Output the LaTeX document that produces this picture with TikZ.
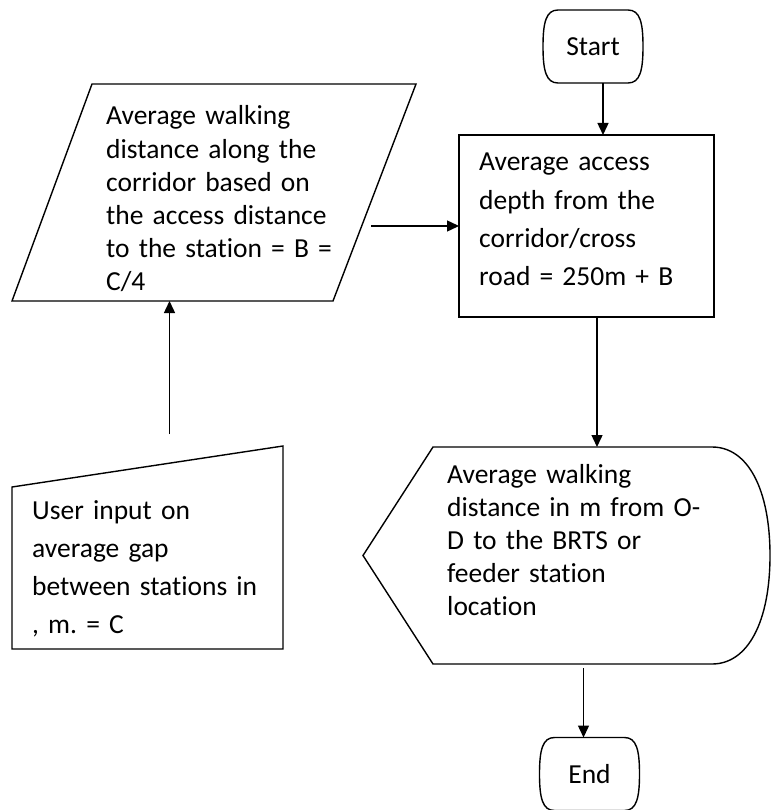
\documentclass[tikz,border=0pt]{standalone}
\usepackage{fontspec}
\setmainfont{Carlito}[RawFeature={-liga;-clig;-calt}]
\frenchspacing
\usetikzlibrary{positioning,arrows.meta,calc}

\begin{document}
\begin{tikzpicture}[x=1pt,y=-1pt,
  line/.style={line width=1.4pt},
  arr/.style={line width=1.4pt,-{Triangle[length=12pt,width=11pt]}},
  frame/.style={inner sep=0pt,outer sep=0pt},
  txt/.style={anchor=base west,inner sep=0pt,text width=330pt,align=left,font=\fontsize{27.5}{38.2}\selectfont},
  tight/.style={txt,font=\fontsize{27.5}{33.2}\selectfont},
  term/.style={frame,minimum width=100pt,minimum height=73pt,font=\fontsize{27.5}{33}\selectfont}]
\useasboundingbox (0,0) rectangle (772,810);
% ---------- terminals ----------
\node[term] (start) at (593,46.5) {Start};
\node[term] (finish) at (589.5,774) {End};
\foreach \n in {start,finish}{
  \draw[line] ($(\n.north west)+(15,0)$) -- ($(\n.north east)+(-15,0)$)
    .. controls ($(\n.north east)+(-3,0)$) and ($(\n.east)+(0,-24)$) .. (\n.east)
    .. controls ($(\n.east)+(0,24)$) and ($(\n.south east)+(-3,0)$) .. ($(\n.south east)+(-15,0)$)
    -- ($(\n.south west)+(15,0)$)
    .. controls ($(\n.south west)+(3,0)$) and ($(\n.west)+(0,24)$) .. (\n.west)
    .. controls ($(\n.west)+(0,-24)$) and ($(\n.north west)+(3,0)$) .. ($(\n.north west)+(15,0)$) -- cycle;}
% ---------- process ----------
\node[frame,draw,line width=1.4pt,minimum width=255pt,minimum height=182pt] (depth) at (586.5,226) {};
\node[txt] (depthtxt) at (479,171) {Average access\\depth from the\\corridor/cross\\road = 250m + B};
% ---------- data (parallelogram) ----------
\node[frame,minimum width=404pt,minimum height=217pt] (walk) at (214,192.5) {};
\draw[line] ($(walk.north west)+(80,0)$) -- (walk.north east) -- ($(walk.south east)+(-83,0)$) -- (walk.south west) -- cycle;
\node[tight] (walktxt) at (106,125) {Average walking\\distance along the\\corridor based on\\the access distance\\to the station = B =\\C/4};
% ---------- manual input ----------
\node[frame,minimum width=271pt,minimum height=203pt] (gap) at (147.5,547.5) {};
\draw[line] (gap.south west) -- ($(gap.north west)+(0,41)$) -- (gap.north east) -- (gap.south east) -- cycle;
\node[txt] (gaptxt) at (32,519) {User input on\\average gap\\between stations in\\, m. = C};
% ---------- display ----------
\node[frame,minimum width=407pt,minimum height=217pt] (disp) at (566.5,555.5) {};
\draw[line] (disp.west) -- ($(disp.north west)+(70,0)$) -- ($(disp.north east)+(-58,0)$)
  .. controls ($(disp.north east)+(-22,0)$) and ($(disp.east)+(0,-66)$) .. (disp.east)
  .. controls ($(disp.east)+(0,66)$) and ($(disp.south east)+(-22,0)$) .. ($(disp.south east)+(-58,0)$)
  -- ($(disp.south west)+(70,0)$) -- cycle;
\node[tight] (disptxt) at (447,483) {Average walking\\distance in m from O-\\D to the BRTS or\\feeder station\\location};
% ---------- connectors ----------
\draw[arr] ([xshift=10pt]start.south) -- ([xshift=10pt]start.south |- depth.north);
\draw[arr] ([xshift=-45pt]walk.east |- depth.west) -- (depth.west);
\draw[arr] ([xshift=10.5pt]depth.south) -- ([xshift=10.5pt]depth.south |- disp.north);
\draw[arr,shorten <=4pt] ([xshift=-6pt]finish.north |- disp.south) -- ([xshift=-6pt]finish.north);
\draw[arr,shorten <=12pt] ([xshift=22pt]gap.north) -- ([xshift=22pt]gap.north |- walk.south);
\end{tikzpicture}
\end{document}
